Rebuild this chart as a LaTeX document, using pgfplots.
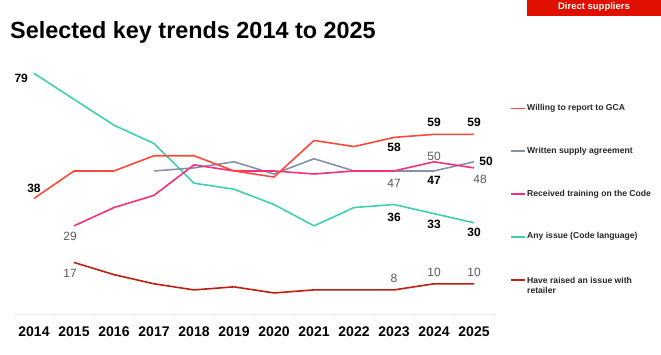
\documentclass[border=0pt]{standalone}
\usepackage{fontspec}
\setmainfont{Liberation Sans}
\usepackage{pgfplots}
\pgfplotsset{compat=1.18}
\definecolor{cWill}{HTML}{FF4A3A}
\definecolor{cWrit}{HTML}{8491A8}
\definecolor{cRec}{HTML}{F7307E}
\definecolor{cAny}{HTML}{40CFB0}
\definecolor{cRai}{HTML}{C01E10}
\definecolor{cBox}{HTML}{E00F00}
\definecolor{cGrid}{HTML}{EDEDED}
\definecolor{cLab}{HTML}{5A5A5A}
\newcommand{\labB}[1]{\fontsize{12bp}{14bp}\selectfont\bfseries #1}
\newcommand{\labG}[1]{\fontsize{12bp}{14bp}\selectfont\color{cLab}#1}
\begin{document}
\begin{tikzpicture}[x=1bp,y=1bp]
\useasboundingbox (0,0) rectangle (661,354);
\fill[cBox] (527,338) rectangle (661,354);
\node[text=white,font=\fontsize{9.5bp}{11bp}\selectfont\bfseries,inner sep=0] at (594,346.5) {Direct suppliers};
\node[anchor=base west,font=\fontsize{23.4bp}{26bp}\selectfont\bfseries,inner sep=0] at (10,315.7) {Selected key trends 2014 to 2025};
\begin{axis}[
  at={(14bp,39.7bp)}, anchor=south west,
  scale only axis, width=480bp, height=244bp,
  xmin=-0.5, xmax=11.5, ymin=0, ymax=80,
  clip=false,
  axis x line*=bottom, axis y line=none,
  x axis line style={draw=cGrid, line width=1bp},
  ytick={20,40,60,80}, ymajorgrids,
  major grid style={draw=cGrid, line width=1bp},
  xtick={0,...,11},
  xticklabels={2014,2015,2016,2017,2018,2019,2020,2021,2022,2023,2024,2025},
  major x tick style={draw=none},
  xticklabel style={font=\fontsize{14bp}{16bp}\selectfont\bfseries, yshift=-9bp},
  extra x ticks={-0.5,0.5,...,11.5},
  extra x tick labels={},
  extra x tick style={grid=none, major tick length=5bp, tick align=outside, major x tick style={draw=cGrid, line width=1bp}},
  every axis plot/.append style={line width=1.6bp, mark=none},
]
\addplot[cRai] coordinates {(1,17)(2,13)(3,10)(4,8)(5,9)(6,7)(7,8)(8,8)(9,8)(10,10)(11,10)};
\addplot[cAny] coordinates {(0,79)(1,70.5)(2,62)(3,56)(4,43)(5,41)(6,36)(7,29)(8,35)(9,36)(10,33)(11,30)};
\addplot[cWrit] coordinates {(3,47)(4,48)(5,50)(6,46)(7,51)(8,47)(9,47)(10,47)(11,50)};
\addplot[cRec] coordinates {(1,29)(2,35)(3,39)(4,49)(5,47)(6,47)(7,46)(8,47)(9,47)(10,50)(11,48)};
\addplot[cWill] coordinates {(0,38)(1,47)(2,47)(3,52)(4,52)(5,47)(6,45)(7,57)(8,55)(9,58)(10,59)(11,59)};
\node at (axis cs:-0.32,77.3) {\labB{79}};
\node at (axis cs:0,41.4) {\labB{38}};
\node at (axis cs:0.9,25.4) {\labG{29}};
\node at (axis cs:0.9,13.5) {\labG{17}};
\node at (axis cs:9,54.8) {\labB{58}};
\node at (axis cs:10,63) {\labB{59}};
\node at (axis cs:11,63) {\labB{59}};
\node at (axis cs:10,51.9) {\labG{50}};
\node at (axis cs:11.3,50.3) {\labB{50}};
\node at (axis cs:9,43) {\labG{47}};
\node at (axis cs:10,43.8) {\labB{47}};
\node at (axis cs:11.15,44.3) {\labG{48}};
\node at (axis cs:9,31.8) {\labB{36}};
\node at (axis cs:10,29.4) {\labB{33}};
\node at (axis cs:11,26.9) {\labB{30}};
\node at (axis cs:9,11.8) {\labG{8}};
\node at (axis cs:10,13.8) {\labG{10}};
\node at (axis cs:11,13.8) {\labG{10}};
\end{axis}
\begin{scope}[every node/.style={anchor=west,inner sep=0,text=black!85,font=\fontsize{8.6bp}{10bp}\selectfont\bfseries}]
\draw[cWill,line width=1.6bp] (510.5,245.7) -- (525,245.7);
\node at (527,245.7) {Willing to report to GCA};
\draw[cWrit,line width=1.6bp] (510.5,203) -- (525,203);
\node at (527,203) {Written supply agreement};
\draw[cRec,line width=1.6bp] (510.5,160) -- (525,160);
\node at (527,160) {Received training on the Code};
\draw[cAny,line width=1.6bp] (510.5,117.3) -- (525,117.3);
\node at (527,117.3) {Any issue (Code language)};
\draw[cRai,line width=1.6bp] (510.5,74) -- (525,74);
\node at (527,74) {Have raised an issue with};
\node at (527,63.5) {retailer};
\end{scope}
\end{tikzpicture}
\end{document}
